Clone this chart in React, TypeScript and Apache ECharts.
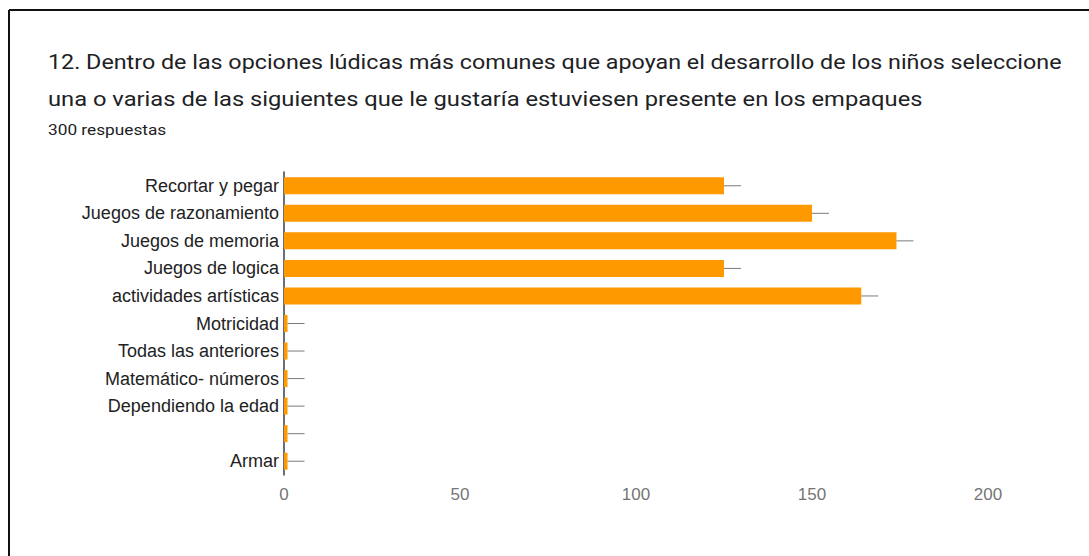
import React, { useEffect, useRef } from "react";
import * as echarts from "echarts";

const categories = [
  "Recortar y pegar",
  "Juegos de razonamiento",
  "Juegos de memoria",
  "Juegos de logica",
  "actividades artísticas",
  "Motricidad",
  "Todas las anteriores",
  "Matemático- números",
  "Dependiendo la edad",
  "",
  "Armar",
];
const values = [125, 150, 174, 125, 164, 1, 1, 1, 1, 1, 1];
const xTicks = [0, 50, 100, 150, 200];

const titleLine1 =
  "12. Dentro de las opciones lúdicas más comunes que apoyan el desarrollo de los niños seleccione";
const titleLine2 = "una o varias de las siguientes que le gustaría estuviesen presente en los empaques";
const subtitle = "300 respuestas";

export default function App() {
  const ref = useRef<HTMLDivElement>(null);
  useEffect(() => {
    if (!ref.current) return;
    const chart = echarts.init(ref.current, null, { renderer: "svg" });
    chart.setOption({
      animation: false,
      backgroundColor: "#ffffff",
      graphic: [
        { type: "line", shape: { x1: 9, y1: 10, x2: 1089, y2: 10 }, style: { stroke: "#111", lineWidth: 2 } },
        { type: "line", shape: { x1: 9, y1: 10, x2: 9, y2: 556 }, style: { stroke: "#111", lineWidth: 2 } },
        {
          type: "text",
          x: 48,
          y: 51,
          scaleX: 1.11,
          style: { text: titleLine1, fontFamily: "Roboto", fontSize: 21, fill: "#202124", verticalAlign: "top" },
        },
        {
          type: "text",
          x: 48,
          y: 88,
          scaleX: 1.13,
          style: { text: titleLine2, fontFamily: "Roboto", fontSize: 21, fill: "#202124", verticalAlign: "top" },
        },
        {
          type: "text",
          x: 48,
          y: 122,
          scaleX: 1.15,
          style: { text: subtitle, fontFamily: "Roboto", fontSize: 15, fill: "#202124", verticalAlign: "top" },
        },
      ],
      grid: { left: 284, right: 101, top: 172, bottom: 81, containLabel: false },
      xAxis: {
        type: "value",
        min: 0,
        max: 200,
        interval: 50,
        axisLine: { show: false },
        axisTick: { show: false },
        splitLine: { show: false },
        axisLabel: {
          color: "#757575",
          fontFamily: "Liberation Sans",
          fontSize: 17,
          margin: 11,
          formatter: (v: number) => (xTicks.includes(v) ? String(v) : ""),
        },
      },
      yAxis: {
        type: "category",
        data: categories,
        inverse: true,
        axisLine: { show: true, lineStyle: { color: "#3a3f4a", width: 1.5 } },
        axisTick: { show: false },
        axisLabel: {
          color: "#222222",
          fontFamily: "Liberation Sans",
          fontSize: 18,
          margin: 5,
        },
      },
      series: [
        {
          type: "bar",
          data: values,
          barWidth: 17,
          itemStyle: { color: "#ff9900" },
          z: 2,
        },
        {
          type: "custom",
          data: values.map((v, i) => [v, i]),
          renderItem: (params: any, api: any) => {
            const p = api.coord([api.value(0), api.value(1)]);
            return {
              type: "line",
              shape: { x1: p[0], y1: p[1], x2: p[0] + 17, y2: p[1] },
              style: { stroke: "#7a7a7a", lineWidth: 1 },
            };
          },
          z: 3,
        },
      ],
    });
    return () => chart.dispose();
  }, []);
  return (
    <div
      ref={ref}
      style={{ position: "fixed", left: 0, top: 0, width: 1089, height: 556 }}
    />
  );
}
